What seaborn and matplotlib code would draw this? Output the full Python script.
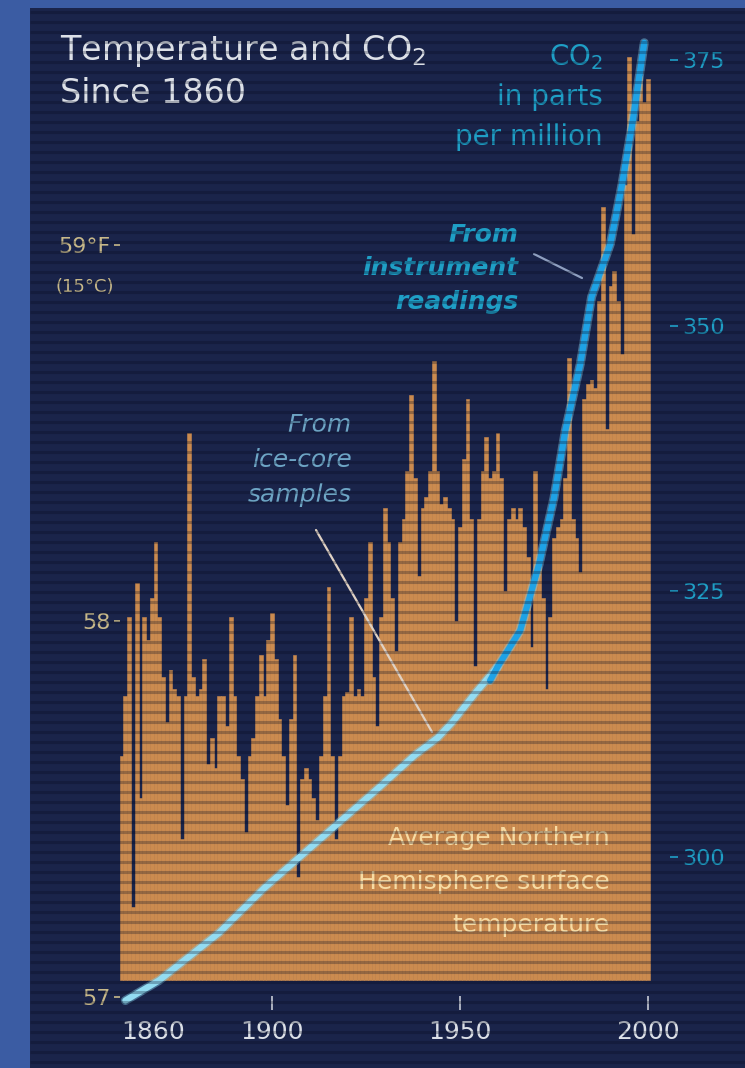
"""
Temperature and CO2 since 1860 - scanned magazine chart, redrawn.
Bars: average northern hemisphere surface temperature (deg F), one per year.
Line: CO2 in ppm (ice-core samples, then instrument readings).
"""
import numpy as np
import pandas as pd
import matplotlib
matplotlib.use("Agg")
import matplotlib.pyplot as plt
from matplotlib.patches import Rectangle
from matplotlib.lines import Line2D
import matplotlib.patheffects as pe
import seaborn as sns

# --- data ----------------------------------------------------------------
years = list(range(1860, 2001))
temp_f = [
    57.64, 57.80, 58.01, 57.24, 58.10, 57.53, 58.01, 57.95, 58.06, 58.21,  # 1860s
    58.01, 57.85, 57.73, 57.87, 57.82, 57.80, 57.42, 57.80, 58.50, 57.85,  # 1870s
    57.80, 57.82, 57.90, 57.62, 57.69, 57.61, 57.80, 57.80, 57.72, 58.01,  # 1880s
    57.80, 57.64, 57.58, 57.44, 57.64, 57.69, 57.80, 57.91, 57.80, 57.95,  # 1890s
    58.02, 57.90, 57.74, 57.64, 57.51, 57.74, 57.91, 57.32, 57.58, 57.61,  # 1900s
    57.58, 57.53, 57.47, 57.64, 57.80, 58.09, 57.64, 57.42, 57.64, 57.80,  # 1910s
    57.81, 58.01, 57.80, 57.82, 57.80, 58.06, 58.21, 57.85, 57.72, 58.01,  # 1920s
    58.30, 58.21, 58.06, 57.92, 58.21, 58.27, 58.40, 58.60, 58.38, 58.12,  # 1930s
    58.30, 58.33, 58.40, 58.69, 58.40, 58.31, 58.33, 58.30, 58.27, 58.00,  # 1940s
    58.25, 58.43, 58.59, 58.27, 57.88, 58.27, 58.40, 58.49, 58.38, 58.40,  # 1950s
    58.50, 58.38, 58.08, 58.27, 58.30, 58.27, 58.30, 58.25, 58.17, 57.93,  # 1960s
    58.40, 58.17, 58.06, 57.82, 58.01, 58.22, 58.25, 58.27, 58.38, 58.70,  # 1970s
    58.27, 58.22, 58.13, 58.59, 58.63, 58.64, 58.62, 58.85, 59.10, 58.51,  # 1980s
    58.89, 58.93, 58.85, 58.71, 59.16, 59.50, 59.03, 59.33, 59.45, 59.38,  # 1990s
    59.44,
]
temp_base = 57.045

ice_years = [1861, 1870, 1886, 1898, 1908, 1918, 1928, 1938, 1944, 1948, 1954, 1960]
ice_ppm = [286.5, 288.4, 292.9, 297.1, 300.2, 303.3, 306.4, 309.6, 311.2, 312.7, 315.4, 317.9]
inst_years = [1958, 1960, 1966, 1971, 1975, 1978, 1982, 1985, 1990, 1993, 1996, 1999]
inst_ppm = [316.6, 317.9, 321.3, 327.5, 333.8, 340.1, 346.4, 352.7, 357.7, 363.1, 369.4, 376.6]

temp_ticks = [57, 58, 59]
temp_labels = ["57", "58", "59°F"]
co2_ticks = [300, 325, 350, 375]
year_ticks = [1860, 1900, 1950, 2000]

# --- colours --------------------------------------------------------------
BORDER = "#3b5ca3"
PANEL = "#1a244a"
ORANGE = "#cb8b4f"
TITLE = "#dde1e8"
TAN = "#c8b98a"
CYAN = "#1f9fc6"
ICE_TXT = "#6ea6c6"
AVG_TXT = "#f8dca4"

sns.set_theme(style="dark", rc={"axes.facecolor": "none", "figure.facecolor": BORDER})
plt.rcParams["font.family"] = ["DejaVu Sans"]

W, H = 745, 1068
fig = plt.figure(figsize=(W / 100, H / 100), dpi=100)


def fx(px):
    return px / W


def fy(py):
    return 1 - py / H


# dark panel behind the chart
fig.patches.append(Rectangle((fx(30), 0), 1 - fx(30), fy(8), transform=fig.transFigure,
                             facecolor=PANEL, edgecolor="none", zorder=-5))

ax = fig.add_axes([fx(120), fy(1010), fx(670) - fx(120), fy(20) - fy(1010)])
ax.set_facecolor("none")

# temperature bars, one per year
ax.bar(years, np.array(temp_f) - temp_base, bottom=temp_base, width=1.0,
       color=ORANGE, edgecolor=ORANGE, linewidth=0.4, zorder=2)

# CO2 on a second y axis
co2 = pd.concat([
    pd.DataFrame({"year": ice_years, "ppm": ice_ppm, "source": "ice core"}),
    pd.DataFrame({"year": inst_years, "ppm": inst_ppm, "source": "instrument"}),
], ignore_index=True)
ax2 = ax.twinx()
ax2.set_facecolor("none")
sns.lineplot(data=co2, x="year", y="ppm", hue="source", estimator=None,
             palette={"ice core": "#93dcf2", "instrument": "#1ea2e6"},
             linewidth=4.5, legend=False, ax=ax2, zorder=4)
for ln in ax2.lines:
    ln.set_path_effects([pe.Stroke(linewidth=6.5, foreground="#7fcbe8", alpha=0.45), pe.Normal()])
    ln.set_solid_capstyle("round")

ax.set_xlim(1859.57, 2005.85)
ax.set_ylim(56.9654, 59.598)
ax2.set_ylim(285.61, 378.74)
ax.set_xlabel("")
ax.set_ylabel("")
ax2.set_xlabel("")
ax2.set_ylabel("")
for a in (ax, ax2):
    for s in a.spines.values():
        s.set_visible(False)
    a.grid(False)

ax.set_yticks(temp_ticks, temp_labels)
ax.tick_params(axis="y", left=True, direction="out", length=4, width=1.2,
               color=TAN, labelcolor=TAN, labelsize=16, pad=3)
ax.set_xticks(year_ticks, [str(y) for y in year_ticks])
ax.tick_params(axis="x", bottom=True, direction="in", length=10, width=1.2,
               color="#c8ccd6", labelcolor=TITLE, labelsize=18, pad=7)
first = ax.xaxis.get_major_ticks()[0]
first.tick1line.set_visible(False)
ax.get_xticklabels()[0].set_horizontalalignment("left")

ax2.set_yticks(co2_ticks, [str(v) for v in co2_ticks])
ax2.tick_params(axis="y", right=True, left=False, direction="out", length=6, width=1.2,
                color=CYAN, labelcolor=CYAN, labelsize=16, pad=3)

# --- texts ----------------------------------------------------------------
fig.text(fx(60), fy(60), "Temperature and CO$_2$", color=TITLE, fontsize=24, va="baseline")
fig.text(fx(60), fy(103), "Since 1860", color=TITLE, fontsize=24, va="baseline")
fig.text(fx(114), fy(287), "(15°C)", color=TAN, fontsize=13, ha="right", va="center")

for txt, ypx in [("CO$_2$", 57), ("in parts", 97), ("per million", 137)]:
    fig.text(fx(603), fy(ypx), txt, color=CYAN, fontsize=20, ha="right", va="center")
for txt, ypx in [("From", 235), ("instrument", 268), ("readings", 302)]:
    fig.text(fx(518), fy(ypx), txt, color=CYAN, fontsize=18, style="italic",
             weight="bold", ha="right", va="center")
for txt, ypx in [("From", 425), ("ice-core", 460), ("samples", 495)]:
    fig.text(fx(352), fy(ypx), txt, color=ICE_TXT, fontsize=18, style="italic",
             ha="right", va="center")
for txt, ypx in [("Average Northern", 838), ("Hemisphere surface", 882), ("temperature", 925)]:
    fig.text(fx(610), fy(ypx), txt, color=AVG_TXT, fontsize=18, ha="right", va="center")

fig.add_artist(Line2D([fx(534), fx(582)], [fy(254), fy(278)], color="#8fa0c0", lw=1.6))
fig.add_artist(Line2D([fx(316), fx(432)], [fy(530), fy(732)], color="#e0d2c4", lw=1.6))

# scan-line texture of the printed original
ov = fig.add_axes([fx(30), 0, 1 - fx(30), fy(8)])
ov.set_zorder(10)
ov.set_xlim(0, 1)
ov.set_ylim(1068, 8)
ov.hlines(np.arange(12, 1068, 10), 0, 1, color="#050a1e", alpha=0.28, lw=2.2)
ov.axis("off")

fig.savefig("out.png", dpi=100, facecolor=BORDER)
